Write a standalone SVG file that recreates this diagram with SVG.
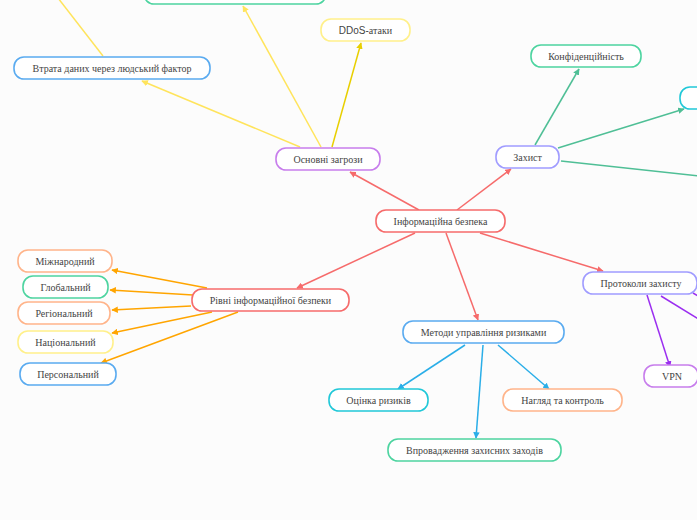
<svg xmlns="http://www.w3.org/2000/svg" width="697" height="520" viewBox="0 0 697 520">
<defs>
<style>
.n rect{fill:#fff;stroke-width:1.6}
.n text{font-family:"Liberation Serif","DejaVu Serif",serif;font-size:10px;fill:#444;text-anchor:middle}
.sans{font-family:"Liberation Sans","DejaVu Sans",sans-serif}
.c line{stroke-width:1.5;fill:none}
.red{stroke:#f66b6b}.yel{stroke:#ffe45c}.yel2{stroke:#e8cf00}.grn{stroke:#4fbf96}.org{stroke:#ffa500}.pur{stroke:#9b2ef0}.blu{stroke:#2aaee8}
</style>
<marker id="aR" viewBox="0 0 10 10" refX="9" refY="5" markerWidth="6.5" markerHeight="6.5" markerUnits="userSpaceOnUse" orient="auto"><path d="M0,0L10,5L0,10z" fill="#f66b6b"/></marker>
<marker id="aY" viewBox="0 0 10 10" refX="9" refY="5" markerWidth="6.5" markerHeight="6.5" markerUnits="userSpaceOnUse" orient="auto"><path d="M0,0L10,5L0,10z" fill="#ffe45c"/></marker>
<marker id="aY2" viewBox="0 0 10 10" refX="9" refY="5" markerWidth="6.5" markerHeight="6.5" markerUnits="userSpaceOnUse" orient="auto"><path d="M0,0L10,5L0,10z" fill="#e8cf00"/></marker>
<marker id="aG" viewBox="0 0 10 10" refX="9" refY="5" markerWidth="6.5" markerHeight="6.5" markerUnits="userSpaceOnUse" orient="auto"><path d="M0,0L10,5L0,10z" fill="#4fbf96"/></marker>
<marker id="aO" viewBox="0 0 10 10" refX="9" refY="5" markerWidth="6.5" markerHeight="6.5" markerUnits="userSpaceOnUse" orient="auto"><path d="M0,0L10,5L0,10z" fill="#ffa500"/></marker>
<marker id="aP" viewBox="0 0 10 10" refX="9" refY="5" markerWidth="6.5" markerHeight="6.5" markerUnits="userSpaceOnUse" orient="auto"><path d="M0,0L10,5L0,10z" fill="#9b2ef0"/></marker>
<marker id="aB" viewBox="0 0 10 10" refX="9" refY="5" markerWidth="6.5" markerHeight="6.5" markerUnits="userSpaceOnUse" orient="auto"><path d="M0,0L10,5L0,10z" fill="#2aaee8"/></marker>
</defs>
<rect width="697" height="520" fill="#fcfcfc"/>
<g id="connectors" class="c">
<line class="red" x1="419" y1="210" x2="350" y2="172" marker-end="url(#aR)"/>
<line class="red" x1="457" y1="210" x2="511" y2="169" marker-end="url(#aR)"/>
<line class="red" x1="415" y1="233" x2="297" y2="288" marker-end="url(#aR)"/>
<line class="red" x1="446" y1="233" x2="478" y2="320" marker-end="url(#aR)"/>
<line class="red" x1="480" y1="233" x2="603" y2="271" marker-end="url(#aR)"/>
<line class="yel" x1="300" y1="147" x2="142" y2="81" marker-end="url(#aY)"/>
<line class="yel" x1="321" y1="147" x2="243" y2="6" marker-end="url(#aY)"/>
<line class="yel2" x1="332" y1="147" x2="361" y2="43" marker-end="url(#aY2)"/>
<line class="yel" x1="103" y1="56" x2="58" y2="-2"/>
<line class="grn" x1="535" y1="145" x2="579" y2="69" marker-end="url(#aG)"/>
<line class="grn" x1="558" y1="148" x2="684" y2="109" marker-end="url(#aG)"/>
<line class="grn" x1="561" y1="161" x2="700" y2="176"/>
<line class="org" x1="207" y1="288" x2="112" y2="270" marker-end="url(#aO)"/>
<line class="org" x1="193" y1="295" x2="110" y2="290" marker-end="url(#aO)"/>
<line class="org" x1="191" y1="306" x2="112" y2="310" marker-end="url(#aO)"/>
<line class="org" x1="212" y1="312" x2="112" y2="333" marker-end="url(#aO)"/>
<line class="org" x1="238" y1="312" x2="101" y2="363" marker-end="url(#aO)"/>
<line class="pur" x1="647" y1="295" x2="670" y2="367" marker-end="url(#aP)"/>
<line class="pur" x1="661" y1="296" x2="700" y2="320"/>
<line class="pur" x1="693" y1="293" x2="700" y2="297"/>
<line class="blu" x1="465" y1="345" x2="398" y2="389" marker-end="url(#aB)"/>
<line class="blu" x1="483" y1="345" x2="476" y2="438" marker-end="url(#aB)"/>
<line class="blu" x1="498" y1="345" x2="549" y2="389" marker-end="url(#aB)"/>
</g>
<g id="n-top" class="n"><rect x="144" y="-18" width="182" height="22" rx="10" stroke="#4dd4a0"/></g>
<g id="n-ddos" class="n"><rect x="321" y="19" width="89" height="22" rx="10" stroke="#fff08a"/><text x="365.5" y="34"><tspan class="sans">DDoS-</tspan>атаки</text></g>
<g id="n-vtrata" class="n"><rect x="14" y="57" width="196" height="22" rx="10" stroke="#5aabf0"/><text x="112" y="72">Втрата даних через людський фактор</text></g>
<g id="n-zagrozy" class="n"><rect x="276" y="148" width="104" height="22" rx="10" stroke="#c77dec"/><text x="328" y="163">Основні загрози</text></g>
<g id="n-zakhyst" class="n"><rect x="496" y="146" width="63" height="22" rx="10" stroke="#a09cff"/><text x="527.5" y="161">Захист</text></g>
<g id="n-konf" class="n"><rect x="531" y="45" width="110" height="22" rx="10" stroke="#4dd4a0"/><text x="586" y="60">Конфіденційність</text></g>
<g id="n-cyan" class="n"><rect x="680" y="87" width="40" height="22" rx="10" stroke="#21c8d8"/></g>
<g id="n-root" class="n"><rect x="376" y="210" width="129" height="22" rx="10" stroke="#f66b6b"/><text x="440.5" y="225">Інформаційна безпека</text></g>
<g id="n-protokoly" class="n"><rect x="583" y="272" width="114" height="22" rx="10" stroke="#a09cff"/><text x="641" y="287">Протоколи захисту</text></g>
<g id="n-vpn" class="n"><rect x="644" y="365" width="54" height="22" rx="10" stroke="#c77dec"/><text class="sans" x="672" y="380">VPN</text></g>
<g id="n-rivni" class="n"><rect x="192" y="289" width="157" height="22" rx="10" stroke="#f66b6b"/><text x="270.5" y="304">Рівні інформаційної безпеки</text></g>
<g id="n-mizhn" class="n"><rect x="18" y="250" width="94" height="22" rx="10" stroke="#ffb48a"/><text x="65" y="265">Міжнародний</text></g>
<g id="n-glob" class="n"><rect x="23" y="276" width="85" height="22" rx="10" stroke="#4dd4a0"/><text x="65.5" y="291">Глобальний</text></g>
<g id="n-reg" class="n"><rect x="18" y="302" width="92" height="22" rx="10" stroke="#ffb48a"/><text x="64" y="317">Регіональний</text></g>
<g id="n-nats" class="n"><rect x="18" y="331" width="95" height="22" rx="10" stroke="#fff08a"/><text x="65.5" y="346">Національний</text></g>
<g id="n-pers" class="n"><rect x="20" y="363" width="96" height="22" rx="10" stroke="#5aabf0"/><text x="68" y="378">Персональний</text></g>
<g id="n-metody" class="n"><rect x="403" y="321" width="161" height="22" rx="10" stroke="#5aabf0"/><text x="483.5" y="336">Методи управління ризиками</text></g>
<g id="n-otsinka" class="n"><rect x="329" y="389" width="99" height="22" rx="10" stroke="#21c8d8"/><text x="378.5" y="404">Оцінка ризиків</text></g>
<g id="n-nahliad" class="n"><rect x="503" y="389" width="119" height="22" rx="10" stroke="#ffb48a"/><text x="562.5" y="404">Нагляд та контроль</text></g>
<g id="n-vprov" class="n"><rect x="388" y="439" width="173" height="22" rx="10" stroke="#4dd4a0"/><text x="474.5" y="454">Впровадження захисних заходів</text></g>
</svg>
